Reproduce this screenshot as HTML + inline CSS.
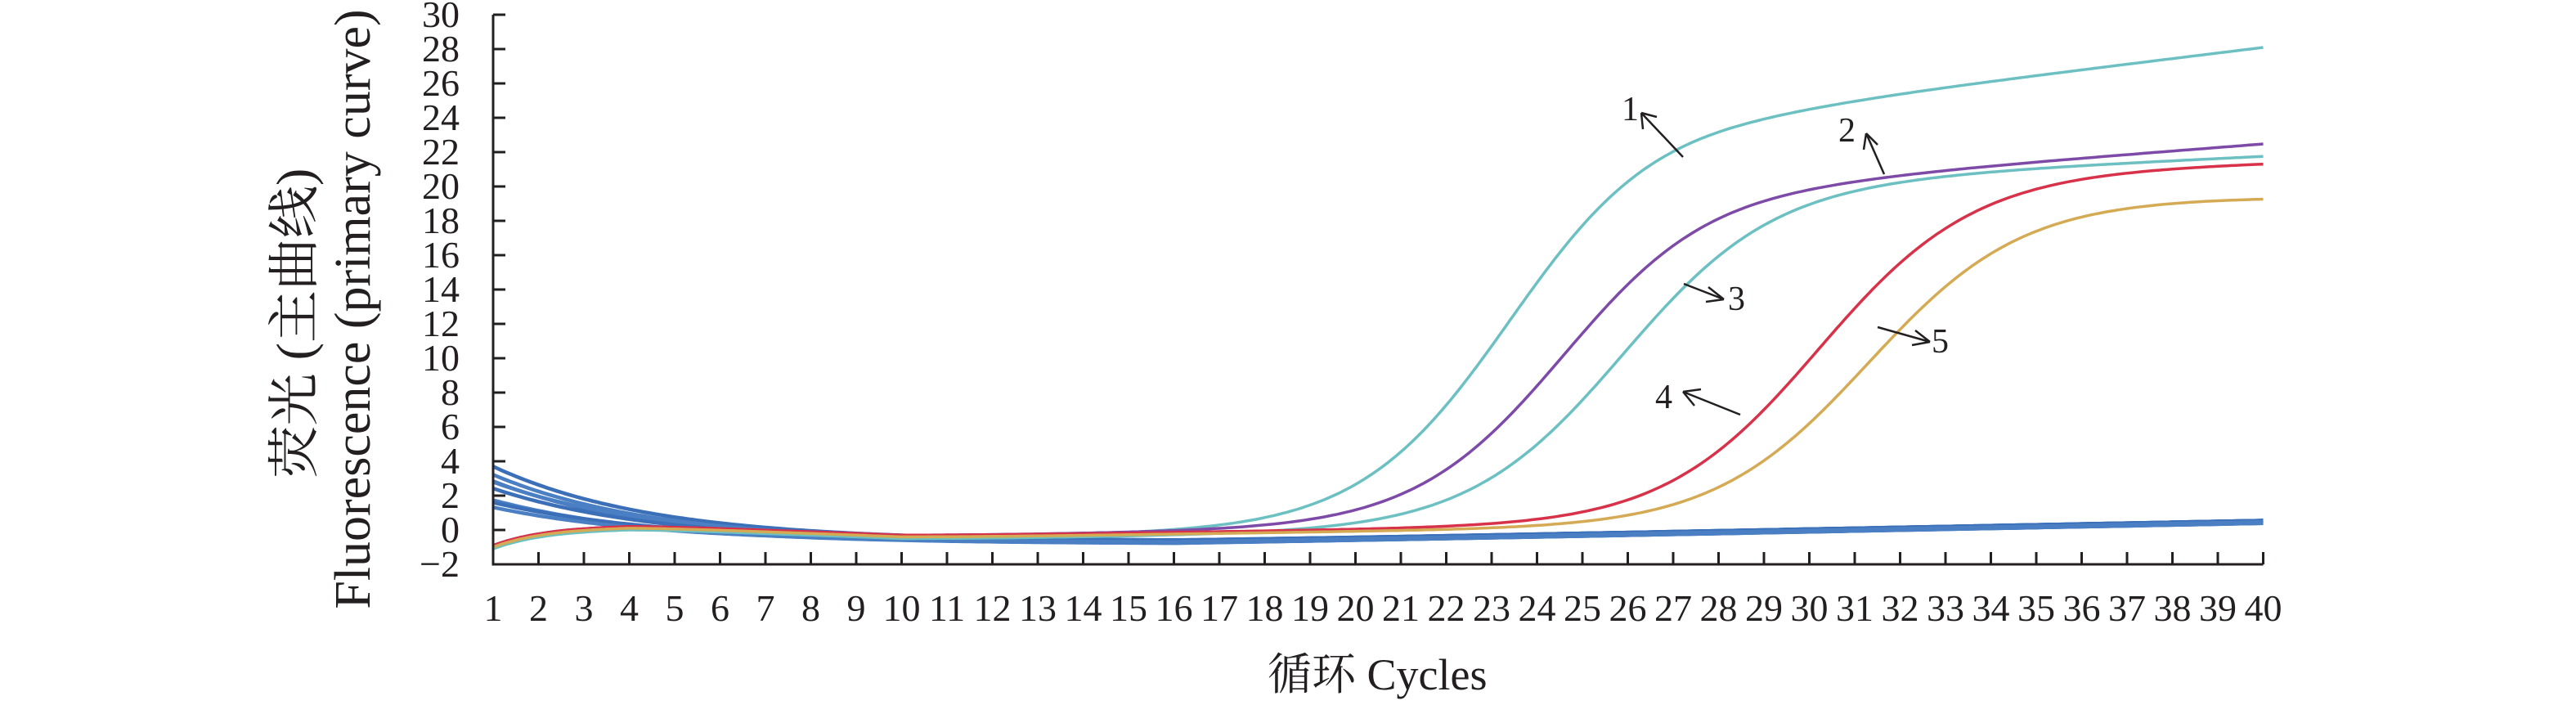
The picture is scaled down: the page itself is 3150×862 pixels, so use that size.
<!DOCTYPE html>
<html><head><meta charset="utf-8">
<style>
html,body{margin:0;padding:0;background:#fff;}
svg{display:block;}
text{font-family:"Liberation Serif","Noto Serif CJK SC",serif;fill:#231f20;}
</style></head>
<body>
<svg id="s" width="3150" height="862" viewBox="0 0 3150 862" xmlns="http://www.w3.org/2000/svg">
<g id="curves"></g>
<g id="axes" stroke="#231f20" stroke-width="3" fill="none"></g>
<g id="labels"></g>
<text x="382" y="395" font-size="64" text-anchor="middle" transform="rotate(-90 382 395)">荧光 (主曲线)</text>
<text x="452" y="378" font-size="62" text-anchor="middle" transform="rotate(-90 452 378)">Fluorescence (primary curve)</text>
<text x="1550" y="843" font-size="54">循环 Cycles</text>
<g font-size="42">
<text x="1983" y="147">1</text>
<text x="2248" y="173">2</text>
<text x="2113" y="379">3</text>
<text x="2024" y="499">4</text>
<text x="2362" y="431">5</text>
</g>
<g stroke="#231f20" stroke-width="2.5" fill="none">
<path d="M2058 192 L2007 138 M2007 138 l2 20 M2007 138 l19 5"/>
<path d="M2304 213 L2282 163 M2282 163 l-3 20 M2282 163 l14 14"/>
<path d="M2059 347 L2108 366 M2108 366 l-19 -15 M2108 366 l-22 3"/>
<path d="M2128 507 L2058 479 M2058 479 l14 17 M2058 479 l22 -3"/>
<path d="M2296 400 L2360 418 M2360 418 l-18 -14 M2360 418 l-22 4"/>
</g>
</svg>
<script>
var X0=603,DX=55.5,Y0=648,DY=21;
function px(c){return X0+(c-1)*DX;}
function py(v){return Y0-v*DY;}
var ns="http://www.w3.org/2000/svg";
var ax=document.getElementById('axes');
function add(p,tag,attrs){var e=document.createElementNS(ns,tag);for(var k in attrs)e.setAttribute(k,attrs[k]);p.appendChild(e);return e;}
var d="M"+X0+" "+py(30)+" L"+X0+" "+py(-2)+" L"+px(40)+" "+py(-2);
for(var v=-2;v<=30;v+=2){d+=" M"+X0+" "+py(v)+" h15";}
for(var c=2;c<=40;c++){d+=" M"+px(c)+" "+py(-2)+" v-15";}
add(ax,'path',{d:d});
var lab=document.getElementById('labels');
for(var v=-2;v<=30;v+=2){var t=add(lab,'text',{x:562,y:py(v)+15,'font-size':46,'text-anchor':'end'});t.textContent=(v<0?"\u2212"+(-v):v);}
for(var c=1;c<=40;c++){var t=add(lab,'text',{x:px(c),y:759,'font-size':46,'text-anchor':'middle'});t.textContent=c;}
var cg=document.getElementById('curves');
function sp(x){return Math.log(1+Math.exp(x));}
function base(c,s){
  return -0.9+s + 1.2*(1-Math.exp(-(c-1)/1.2)) - 0.1*Math.max(0,c-4)*Math.exp(-Math.max(0,c-10)/6) ;
}
function sig(A,c0,k,sl,c1,s){return function(c){return base(c,s)+A/(1+Math.exp(-(c-c0)/k))+sl*sp(c-c1);};}
function draw(f,col,w){var p="";for(var c=1;c<=40.001;c+=0.1){p+=(p?" L":"M")+px(c).toFixed(1)+" "+py(f(c)).toFixed(1);}add(cg,'path',{d:p,stroke:col,'stroke-width':w,fill:'none'});}
var starts=[3.4,3.0,2.7,2.5,2.2,1.6,1.3,1.1];
for(var i=0;i<starts.length;i++){(function(s0,i){draw(function(c){var e=s0*Math.exp(-(c-1)/3.4);var drift=-0.95*(1-Math.exp(-(c-1)/4))+0.05*Math.max(0,c-16)-0.08*(i%3);return e+drift+0.3;},i%2?"#4a7fc4":"#3b6fb8",4.5);})(starts[i],i);}
draw(sig(24.4,23.4,1.65,0.32,29,-0.1),"#6cc0c2",3.5);
draw(sig(20.2,24.6,1.65,0.2,30,0),"#7d4aa8",3.5);
draw(sig(20.6,25.9,1.7,0.12,31,-0.2),"#6cc0c2",3.5);
draw(sig(20.6,30.2,1.7,0.07,33,0.0),"#d8324a",3.5);
draw(sig(19.2,31.3,1.7,0.0,35,-0.1),"#d4aa55",3.5);
</script>
</body></html>
